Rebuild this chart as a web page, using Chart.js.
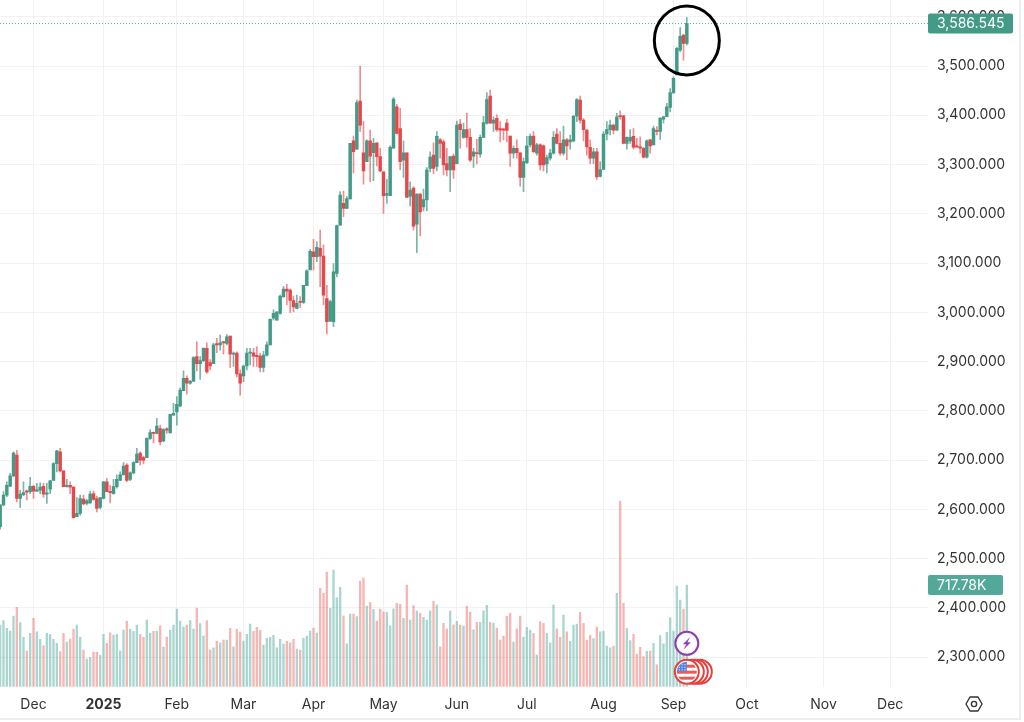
<!DOCTYPE html>
<html>
<head>
<meta charset="utf-8">
<style>
html,body{margin:0;padding:0;background:#fff;overflow:hidden}
#wrap{width:1019px;height:718px;border-right:2px solid #eeeeee;border-bottom:2px solid #eeeeee;background:#fff}
canvas{display:block}
</style>
<script src="https://cdn.jsdelivr.net/npm/chart.js@4"></script>
</head>
<body>
<div id="wrap"><canvas id="c" width="1019" height="718"></canvas></div>
<script>
const opens=[2565,2609,2629,2647,2668,2710,2622,2630,2637,2636,
2647,2637,2639,2647,2631,2641,2659,2693,2717,2678,
2646,2649,2645,2585,2592,2621,2612,2613,2632,2622,
2604,2622,2656,2636,2632,2646,2659,2670,2690,2661,
2674,2695,2714,2705,2705,2744,2756,2754,2764,2739,
2762,2755,2791,2798,2810,2841,2866,2856,2860,2910,
2896,2902,2927,2898,2896,2936,2934,2939,2937,2952,
2915,2917,2875,2871,2891,2917,2918,2911,2911,2888,
2913,2934,2988,2984,2998,3032,3047,3045,3024,3008,
3022,3020,3054,3086,3123,3113,3130,3114,3028,2982,
2981,3079,3177,3221,3211,3230,3348,3331,3429,3324,
3306,3348,3324,3344,3316,3285,3238,3237,3333,3417,
3373,3309,3324,3236,3252,3179,3240,3214,3228,3292,
3319,3296,3350,3346,3302,3289,3317,3302,3382,3355,
3371,3355,3317,3324,3321,3355,3384,3439,3384,3394,
3373,3371,3384,3358,3323,3333,3324,3274,3304,3340,
3358,3323,3340,3338,3301,3313,3323,3362,3343,3323,
3350,3346,3348,3398,3431,3390,3370,3335,3313,3326,
3276,3290,3362,3371,3380,3370,3399,3399,3343,3348,
3357,3338,3336,3333,3315,3350,3340,3369,3367,3392,
3397,3416,3446,3482,3532,3563,3546];
const closes=[2609,2629,2649,2668,2714,2622,2631,2634,2635,2647,
2637,2639,2645,2631,2633,2658,2693,2719,2678,2646,
2649,2645,2583,2592,2622,2611,2618,2631,2620,2602,
2624,2656,2636,2634,2646,2661,2670,2688,2659,2674,
2695,2712,2700,2700,2744,2756,2754,2769,2737,2762,
2761,2793,2795,2813,2842,2866,2856,2860,2908,2896,
2902,2927,2879,2891,2934,2934,2938,2938,2950,2915,
2917,2875,2856,2891,2917,2918,2911,2910,2888,2913,
2934,2986,2998,3001,3033,3047,3043,3024,3011,3018,
3020,3055,3084,3124,3113,3132,3114,3035,2981,3022,
3082,3176,3238,3211,3231,3343,3326,3426,3380,3287,
3348,3317,3343,3316,3287,3237,3241,3335,3433,3363,
3306,3324,3233,3248,3175,3240,3204,3229,3289,3315,
3292,3357,3343,3299,3289,3316,3289,3380,3371,3371,
3355,3309,3326,3322,3355,3385,3432,3384,3390,3371,
3370,3370,3369,3323,3333,3324,3274,3306,3338,3357,
3326,3340,3299,3299,3314,3323,3355,3343,3323,3350,
3338,3350,3398,3432,3390,3371,3336,3313,3326,3275,
3290,3362,3371,3380,3370,3397,3397,3343,3355,3355,
3335,3335,3333,3315,3348,3338,3373,3367,3394,3397,
3417,3446,3475,3536,3560,3546,3586.545];
const highs=[2609,2636,2656,2673,2717,2720,2639,2656,2639,2665,
2649,2653,2654,2653,2653,2659,2695,2720,2724,2678,
2661,2656,2646,2624,2629,2629,2620,2637,2637,2627,
2624,2657,2663,2649,2661,2670,2676,2695,2693,2676,
2697,2724,2717,2708,2745,2762,2757,2785,2771,2764,
2766,2793,2815,2829,2846,2881,2871,2862,2910,2940,
2910,2928,2938,2904,2937,2947,2954,2940,2955,2952,
2920,2920,2883,2893,2927,2927,2927,2930,2917,2921,
2940,2987,3005,3001,3035,3052,3057,3047,3033,3035,
3032,3055,3086,3128,3148,3143,3167,3137,3055,3025,
3099,3177,3245,3246,3235,3343,3358,3431,3500,3387,
3350,3370,3353,3344,3333,3285,3270,3338,3436,3422,
3414,3348,3324,3265,3255,3241,3241,3250,3294,3326,
3344,3367,3353,3350,3333,3316,3321,3388,3392,3384,
3404,3373,3333,3351,3360,3398,3446,3451,3397,3401,
3387,3373,3392,3358,3338,3350,3324,3313,3357,3362,
3367,3343,3342,3340,3319,3331,3367,3373,3367,3378,
3353,3360,3400,3434,3439,3394,3371,3350,3333,3333,
3306,3367,3387,3390,3382,3404,3409,3400,3356,3371,
3373,3353,3356,3335,3350,3351,3378,3377,3396,3398,
3424,3454,3478,3538,3578,3564,3599];
const lows=[2560,2607,2626,2646,2666,2615,2604,2628,2619,2632,
2622,2636,2632,2624,2612,2632,2658,2676,2676,2646,
2645,2632,2582,2585,2588,2609,2609,2612,2618,2595,
2601,2621,2636,2613,2631,2643,2659,2673,2656,2658,
2672,2695,2690,2692,2705,2742,2735,2753,2731,2737,
2754,2755,2791,2771,2808,2841,2834,2854,2859,2881,
2864,2900,2876,2883,2896,2918,2923,2915,2934,2888,
2890,2869,2832,2859,2883,2893,2890,2890,2879,2879,
2911,2934,2984,2984,2996,3030,3015,3000,3001,3008,
3010,3018,3054,3089,3086,3103,3052,3015,2956,2981,
2971,3072,3177,3194,3211,3230,3283,3331,3367,3260,
3306,3265,3267,3297,3285,3201,3221,3237,3333,3362,
3289,3274,3233,3216,3167,3121,3155,3206,3206,3285,
3281,3287,3313,3279,3277,3245,3272,3301,3333,3353,
3335,3306,3294,3301,3315,3355,3382,3384,3367,3367,
3346,3350,3346,3296,3313,3313,3256,3245,3302,3336,
3324,3319,3289,3287,3283,3309,3321,3342,3319,3319,
3310,3331,3346,3387,3384,3348,3319,3302,3302,3270,
3275,3290,3350,3360,3362,3369,3392,3342,3331,3343,
3331,3335,3323,3313,3313,3323,3340,3360,3351,3384,
3397,3407,3444,3482,3529,3512,3543];
const volumes=[435,466,412,393,499,560,452,348,252,376,
482,388,334,289,376,367,334,306,247,376,
315,336,407,435,348,259,195,207,245,245,
221,369,306,381,365,369,254,400,461,405,
390,435,367,348,470,376,390,393,430,280,
350,400,435,548,463,423,435,466,407,555,
445,358,466,261,275,320,310,329,329,412,
282,405,386,322,369,442,390,419,397,294,
341,348,362,275,334,301,320,310,334,266,
259,343,358,393,414,379,694,659,809,553,
823,628,701,499,303,513,513,494,746,767,
569,593,546,463,548,529,524,430,550,588,
581,482,717,470,572,534,520,489,470,536,
602,576,282,447,409,534,437,461,435,428,
569,527,402,454,454,536,574,454,449,414,
329,358,496,517,315,409,499,350,419,400,
376,223,459,447,376,310,576,409,348,506,
388,320,435,442,524,447,329,362,339,421,
388,393,287,275,287,659,1310,588,412,325,
369,230,278,212,249,252,306,155,360,303,
383,487,393,710,612,548,717.78];
const barIndex=opens.map((_,i)=>i);
const monthTicks=[10,31,53,73,94,115,137,158,181,202,224,247,267];
const monthLabels=["Dec","2025","Feb","Mar","Apr","May","Jun","Jul","Aug","Sep","Oct","Nov","Dec"];
const priceTicks=[2300,2400,2500,2600,2700,2800,2900,3000,3100,3200,3300,3400,3500,3600];
const priceTagText="3,586.545";
const volumeTagText="717.78K";

const GREEN="#439a86",RED="#e4484c";
const FONT="Inter";
const isUp=i=>closes[i]>=opens[i];
const lastIdx=barIndex.length-1;

const overlay={
 id:'overlay',
 afterDraw(chart){
  const {ctx,scales:{x,y,v},chartArea:a}=chart;
  const py=y.getPixelForValue(closes[lastIdx]);
  const px=x.getPixelForValue(lastIdx);
  // last-price dotted line
  ctx.save();
  ctx.strokeStyle="#5fae9c";ctx.lineWidth=1;ctx.setLineDash([1,2]);
  const sy=Math.round(py)+0.5;
  ctx.beginPath();ctx.moveTo(a.left,sy);ctx.lineTo(a.right,sy);ctx.stroke();
  ctx.restore();
  // value tags
  const tag=(text,cy,w,col)=>{
   ctx.save();ctx.fillStyle=col;
   ctx.beginPath();ctx.roundRect(a.right,cy-10,w,20,2);ctx.fill();
   ctx.fillStyle="#fff";ctx.font="14px "+FONT;ctx.textAlign="left";ctx.textBaseline="middle";
   ctx.fillText(text,a.right+9,cy+0.5);ctx.restore();
  };
  tag(priceTagText,py,85,GREEN);
  tag(volumeTagText,v.getPixelForValue(volumes[lastIdx]),75,"#52a999");
  // hand-drawn ring
  ctx.save();ctx.strokeStyle="#000";ctx.lineWidth=3;
  ctx.beginPath();ctx.ellipse(px,y.getPixelForValue(3552),32.5,34.5,0,0,Math.PI*2);ctx.stroke();ctx.restore();
  // lightning badge
  const by=643.3;
  ctx.save();ctx.fillStyle="#fff";ctx.strokeStyle="#8e3bb5";ctx.lineWidth=2;
  ctx.beginPath();ctx.arc(px,by,11.5,0,Math.PI*2);ctx.fill();ctx.stroke();
  ctx.fillStyle="#8e3bb5";ctx.beginPath();
  ctx.moveTo(px+3.5,by-6.5);ctx.lineTo(px-4,by+1);ctx.lineTo(px-0.5,by+1);ctx.lineTo(px-3.5,by+6.5);
  ctx.lineTo(px+4,by-1);ctx.lineTo(px+0.5,by-1);ctx.closePath();ctx.fill();ctx.restore();
  // flag badges
  const fy=671.7;
  ctx.save();
  [13,9,5].forEach(d=>{ctx.fillStyle="#fff";ctx.strokeStyle="#e5403e";ctx.lineWidth=2;
   ctx.beginPath();ctx.arc(px+d,fy,12,0,Math.PI*2);ctx.fill();ctx.stroke();});
  ctx.fillStyle="#fff";ctx.beginPath();ctx.arc(px,fy,12,0,Math.PI*2);ctx.fill();ctx.stroke();
  ctx.save();ctx.beginPath();ctx.arc(px,fy,10,0,Math.PI*2);ctx.clip();
  ctx.fillStyle="#fff";ctx.fillRect(px-11,fy-11,22,22);
  ctx.fillStyle="#ea5a57";
  for(let k=0;k<3;k++)ctx.fillRect(px-11,fy-7+k*6,22,3);
  ctx.fillStyle="#4f86e8";ctx.fillRect(px-11,fy-11,11,10.5);
  ctx.fillStyle="#fff";
  for(let r=0;r<3;r++)for(let c=0;c<3;c++)ctx.fillRect(px-8+c*2.8,fy-7.5+r*2.6,1,1);
  ctx.restore();ctx.restore();
  // settings glyph in the axis corner
  const gx=974,gy=704;
  ctx.save();ctx.strokeStyle="#333";ctx.lineWidth=1.4;ctx.lineJoin="round";
  ctx.beginPath();
  ctx.moveTo(gx-8,gy);ctx.lineTo(gx-4,gy-7);ctx.lineTo(gx+4,gy-7);ctx.lineTo(gx+8,gy);ctx.lineTo(gx+4,gy+7);ctx.lineTo(gx-4,gy+7);ctx.closePath();ctx.stroke();
  ctx.beginPath();ctx.arc(gx,gy,2.6,0,Math.PI*2);ctx.stroke();
  ctx.restore();
 }
};

new Chart(document.getElementById('c'),{
 data:{datasets:[
  {type:'bar',label:'Volume',yAxisID:'v',order:3,barThickness:1.7,grouped:false,
   data:barIndex.map(i=>({x:i,y:volumes[i]})),
   backgroundColor:barIndex.map(i=>isUp(i)?"rgba(76,170,155,0.48)":"rgba(236,95,90,0.46)")},
  {type:'bar',label:'Range',yAxisID:'y',order:2,barThickness:1,grouped:false,
   data:barIndex.map(i=>({x:i,y:[lows[i],highs[i]]})),
   backgroundColor:barIndex.map(i=>isUp(i)?"rgba(67,154,134,0.72)":"rgba(228,72,76,0.62)")},
  {type:'bar',label:'Body',yAxisID:'y',order:1,barThickness:2.8,grouped:false,minBarLength:1.2,
   data:barIndex.map(i=>({x:i,y:[opens[i],closes[i]]})),
   backgroundColor:barIndex.map(i=>isUp(i)?GREEN:RED)}
 ]},
 options:{
  responsive:false,animation:false,
  layout:{padding:0},
  plugins:{legend:{display:false},tooltip:{enabled:false}},
  scales:{
   x:{type:'linear',min:-0.05,max:278.35,offset:false,
    afterBuildTicks(s){s.ticks=monthTicks.map(value=>({value}));},
    afterFit(s){s.height=31.3;s.paddingLeft=0;s.paddingRight=0;},
    grid:{color:"#f1f1f1",drawTicks:false,offset:false},border:{display:false},
    ticks:{padding:10,autoSkip:false,maxRotation:0,color:"#333",
     font:c=>({family:FONT,size:14,weight:c.tick&&monthLabels[monthTicks.indexOf(c.tick.value)]==="2025"?"700":"400"}),
     callback:val=>monthLabels[monthTicks.indexOf(val)]}},
   y:{position:'right',min:2240,max:3634,
    afterBuildTicks(s){s.ticks=priceTicks.map(value=>({value}));},
    afterFit(s){s.width=91;s.paddingTop=0;s.paddingBottom=0;},
    grid:{color:"#f2f2f2",drawTicks:false},border:{display:false},
    ticks:{padding:9,color:"#333",font:{family:FONT,size:14},
     callback:val=>val.toLocaleString('en-US',{minimumFractionDigits:3,maximumFractionDigits:3})}},
   v:{display:false,position:'left',min:0,max:4846}
  }
 },
 plugins:[overlay]
});
</script>
</body>
</html>
